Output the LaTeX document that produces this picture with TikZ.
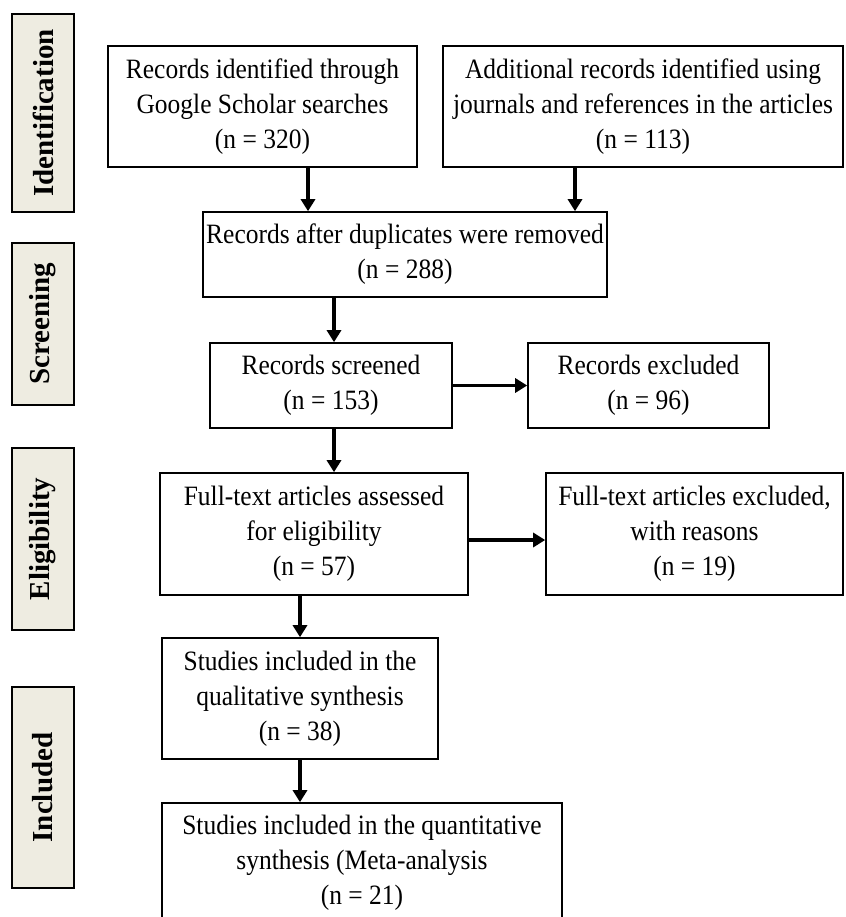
\documentclass[tikz,border=0pt]{standalone}
\usepackage{fontspec}
\setmainfont{Liberation Serif}[FakeStretch=0.91]
\newfontfamily\lblfont{Liberation Serif}
\usetikzlibrary{arrows.meta}
\definecolor{barfill}{RGB}{238,236,225}
\tikzset{
  box/.style={draw, line width=1.6pt, align=center, inner sep=0pt,
    font=\fontsize{28}{35}\selectfont},
  phase/.style={draw, line width=1.8pt, fill=barfill, inner sep=0pt,
    rotate=90, minimum height=62pt,
    font=\lblfont\bfseries\fontsize{29}{33}\selectfont},
  arr/.style={line width=3.2pt, -{Triangle[length=12pt,width=14pt]}}
}
\begin{document}
\begin{tikzpicture}[x=1pt,y=-1pt]
\useasboundingbox (0,0) rectangle (845,917);
\clip (0,0) rectangle (845,917);
% phase bars (rotated: minimum width runs along the text, i.e. vertically)
\node[phase, minimum width=198pt] (pid) at (43,113) {Identification};
\node[phase, minimum width=162pt] (psc) at (43,324) {Screening};
\node[phase, minimum width=182pt] (pel) at (43,539) {Eligibility};
\node[phase, minimum width=201pt] (pin) at (43,787.5) {Included};
% boxes
\node[box, minimum width=309pt, minimum height=121pt] (A) at (262.5,106.5)
  {Records identified through\\Google Scholar searches\\(n = 320)};
\node[box, minimum width=400pt, minimum height=121pt] (B) at (643,106.5)
  {Additional records identified using\\journals and references in the articles\\(n = 113)};
\node[box, minimum width=404pt, minimum height=85pt] (C) at (405,254.5)
  {Records after duplicates were removed\\(n = 288)};
\node[box, minimum width=242pt, minimum height=85pt] (D) at (331,385.5)
  {Records screened\\(n = 153)};
\node[box, minimum width=241pt, minimum height=85pt] (E) at (648.5,385.5)
  {Records excluded\\(n = 96)};
\node[box, minimum width=308pt, minimum height=122pt] (F) at (314,534)
  {Full-text articles assessed\\for eligibility\\(n = 57)};
\node[box, minimum width=297pt, minimum height=122pt] (F2) at (694.5,534)
  {Full-text articles excluded,\\with reasons\\(n = 19)};
\node[box, minimum width=276pt, minimum height=121pt] (G) at (300,698.5)
  {Studies included in the\\qualitative synthesis\\(n = 38)};
\node[box, minimum width=400pt, minimum height=120pt] (H) at (362,863)
  {Studies included in the quantitative\\synthesis (Meta-analysis\\(n = 21)};
% arrows
\draw[arr] ([xshift=45.5pt]A.south) -- ([xshift=45.5pt]A.south |- C.north);
\draw[arr] ([xshift=-68pt]B.south) -- ([xshift=-68pt]B.south |- C.north);
\draw[arr] ([xshift=3pt]D.north |- C.south) -- ([xshift=3pt]D.north);
\draw[arr] (D.east) -- (E.west);
\draw[arr] ([xshift=3pt]D.south) -- ([xshift=3pt]D.south |- F.north);
\draw[arr] ([yshift=-6pt]F.east) -- ([yshift=-6pt]F.east -| F2.west);
\draw[arr] (G.north |- F.south) -- (G.north);
\draw[arr] (G.south) -- (G.south |- H.north);
\end{tikzpicture}
\end{document}
